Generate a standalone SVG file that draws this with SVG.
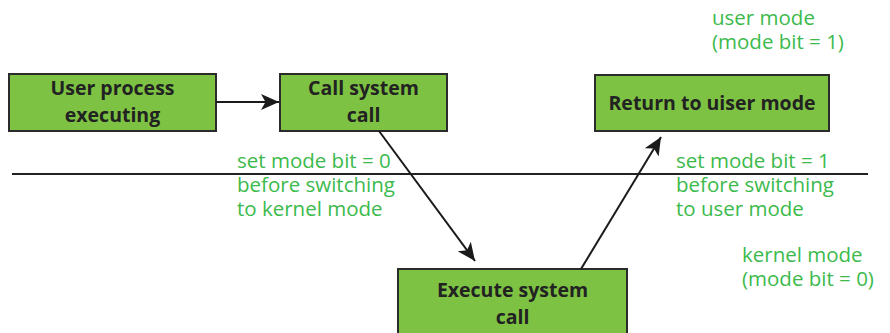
<svg xmlns="http://www.w3.org/2000/svg" width="890" height="333" viewBox="0 0 890 333">
  <defs>
    <marker id="arrow" viewBox="0 0 10 10" refX="10" refY="5" markerWidth="18" markerHeight="18" markerUnits="userSpaceOnUse" orient="auto">
      <path d="M0,0.5 L10,5 L0,9.5 L2.5,5 z" fill="#1a1a1a"/>
    </marker>
    <style>
      .box { fill: #7dc242; stroke: #2b2b2b; stroke-width: 2; }
      .lbl { font-family: "Open Sans", "Liberation Sans", Arial, sans-serif; font-weight: bold; font-size: 19.5px; fill: #222; text-anchor: middle; }
      .note { font-family: "Open Sans", "Liberation Sans", Arial, sans-serif; font-size: 20.5px; fill: #3cba4c; }
      .edge { stroke: #1a1a1a; stroke-width: 2; fill: none; }
    </style>
  </defs>
  <rect width="890" height="333" fill="#ffffff"/>

  <!-- user / kernel boundary -->
  <line x1="12" y1="174" x2="868" y2="174" stroke="#222" stroke-width="2"/>

  <g id="user-process">
    <rect class="box" x="9" y="74" width="207" height="57"/>
    <text class="lbl" x="112.5" y="95">User process<tspan x="112.5" dy="27">executing</tspan></text>
  </g>

  <g id="call-system-call">
    <rect class="box" x="280" y="74" width="167" height="57"/>
    <text class="lbl" x="363.5" y="95">Call system<tspan x="363.5" dy="27">call</tspan></text>
  </g>

  <g id="return-user-mode">
    <rect class="box" x="595" y="75" width="234" height="56"/>
    <text class="lbl" x="712" y="110">Return to uiser mode</text>
  </g>

  <g id="execute-system-call">
    <rect class="box" x="398" y="269" width="229" height="70"/>
    <text class="lbl" x="512.5" y="297">Execute system<tspan x="512.5" dy="27">call</tspan></text>
  </g>

  <g id="connectors">
    <line class="edge" x1="216" y1="102" x2="279" y2="102" marker-end="url(#arrow)"/>
    <line class="edge" x1="379" y1="131" x2="475" y2="261" marker-end="url(#arrow)"/>
    <line class="edge" x1="581" y1="269" x2="661" y2="137" marker-end="url(#arrow)"/>
  </g>

  <g id="notes">
    <text class="note" x="712" y="25">user mode<tspan x="712" dy="24">(mode bit = 1)</tspan></text>
    <text class="note" x="237" y="168">set mode bit = 0<tspan x="237" dy="24">before switching</tspan><tspan x="237" dy="24">to kernel mode</tspan></text>
    <text class="note" x="676" y="168">set mode bit = 1<tspan x="676" dy="24">before switching</tspan><tspan x="676" dy="24">to user mode</tspan></text>
    <text class="note" x="742" y="262">kernel mode<tspan x="742" dy="24">(mode bit = 0)</tspan></text>
  </g>
</svg>
